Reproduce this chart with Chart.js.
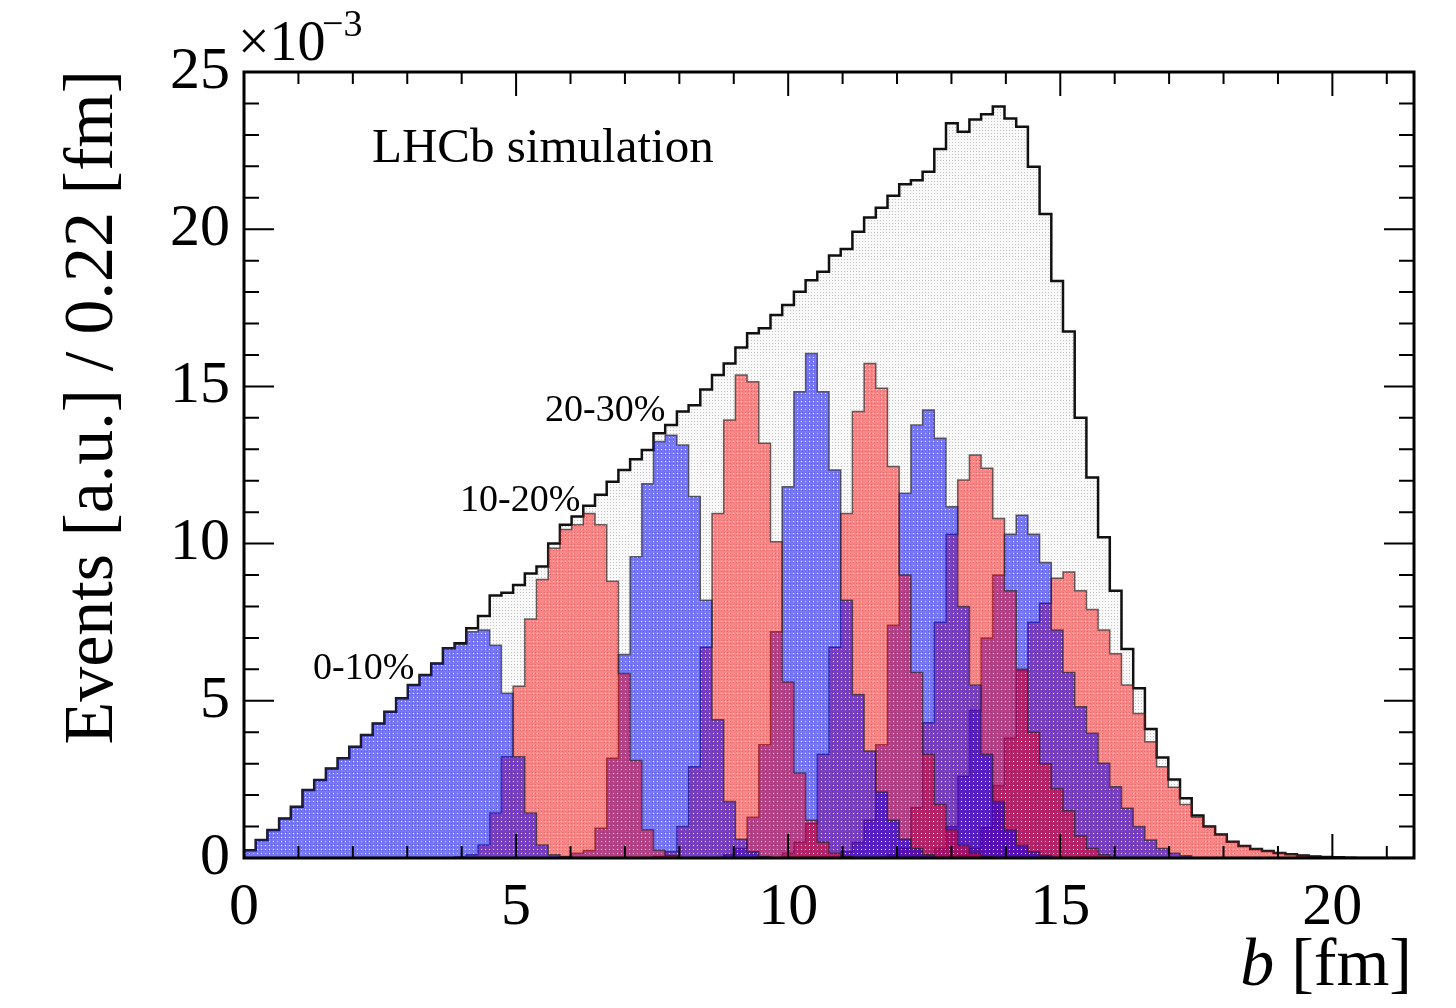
<!DOCTYPE html>
<html>
<head>
<meta charset="utf-8">
<script src="https://cdn.jsdelivr.net/npm/chart.js@4.4.1/dist/chart.umd.min.js"></script>
<style>
  html, body { margin: 0; padding: 0; background: #fff; }
  #wrap { width: 1456px; height: 1008px; }
</style>
</head>
<body>
<div id="wrap"><canvas id="c" width="1456" height="1008"></canvas></div>
<script>
// b distributions per centrality class, LHCb simulation (values in units of 1e-3)
const binWidth = 0.215;
const xMax = 21.5;
const yMax = 25;
const xTickStep = 5;
const yTickStep = 5;

// all events, 100 bins from b = 0
const total = [
  0.25, 0.57, 0.89, 1.26, 1.63, 2.16, 2.48, 2.85, 3.17, 3.54,
  3.91, 4.28, 4.65, 5.08, 5.5, 5.82, 6.19, 6.67, 6.83, 7.31,
  7.7, 8.35, 8.44, 8.68, 9.05, 9.27, 10.0, 10.6, 10.86, 11.2,
  11.55, 11.97, 12.34, 12.68, 12.98, 13.51, 13.77, 14.2, 14.4, 14.9,
  15.36, 15.73, 16.24, 16.69, 16.85, 17.27, 17.59, 18.01, 18.38, 18.65,
  19.16, 19.37, 19.92, 20.37, 20.68, 21.06, 21.43, 21.56, 21.83, 22.55,
  23.37, 23.1, 23.49, 23.66, 23.9, 23.52, 23.26, 21.99, 20.48, 18.35,
  16.75, 14.0, 12.1, 10.2, 8.5, 6.65, 5.4, 4.1, 3.2, 2.5,
  1.9, 1.35, 1.0, 0.75, 0.52, 0.38, 0.29, 0.22, 0.16, 0.12,
  0.08, 0.05, 0.03, 0.02, 0.01, 0, 0, 0, 0, 0
];

// centrality classes: first bin index, then bin contents
const classNames = ['0-10%', '10-20%', '20-30%', '30-40%', '40-50%',
                    '50-60%', '60-70%', '70-80%', '80-90%', '90-100%'];
const classStart = [0, 18, 27, 35, 41, 46, 51, 55, 59, 61];

const cent0to10 = [0.25, 0.57, 0.89, 1.26, 1.63, 2.16, 2.48, 2.85, 3.17, 3.54,
  3.91, 4.28, 4.65, 5.08, 5.5, 5.82, 6.19, 6.67, 6.8, 7.2,
  7.25, 6.77, 5.24, 3.22, 1.43, 0.41, 0.1, 0.03];
const cent10to20 = [0.03, 0.1, 0.41, 1.43, 3.22, 5.46, 7.6, 8.86, 9.85, 10.45,
  10.6, 10.96, 10.6, 8.8, 5.87, 3.1, 0.9, 0.25, 0.08];
const cent20to30 = [0.05, 0.15, 0.24, 0.95, 3.17, 6.47, 9.58, 11.9, 13.25, 13.45,
  13.14, 11.5, 8.2, 4.4, 1.8, 0.6, 0.2, 0.05];
const cent30to40 = [0.05, 0.2, 1.0, 2.9, 6.7, 10.96, 13.93, 15.36, 15.15, 13.19,
  10.06, 5.6, 2.7, 1.2, 0.5, 0.15, 0.05];
const cent40to50 = [0.1, 0.3, 1.3, 3.6, 7.2, 11.81, 14.83, 16.05, 14.83, 12.34,
  8.2, 5.2, 3.4, 2.1, 1.2, 0.6, 0.3, 0.1];
const cent50to60 = [0.15, 0.5, 1.1, 3.3, 6.7, 10.96, 14.2, 15.73, 14.94, 12.45,
  9.0, 5.9, 3.3, 1.7, 0.9, 0.4, 0.15, 0.05];
const cent60to70 = [0.2, 0.5, 1.2, 3.6, 7.4, 11.6, 13.77, 14.25, 13.35, 11.17,
  8.0, 5.5, 3.3, 1.8, 0.9, 0.4, 0.2, 0.08];
const cent70to80 = [0.1, 0.3, 1.6, 4.3, 7.5, 10.3, 12.02, 12.82, 12.4, 10.8,
  8.5, 6.0, 4.0, 3.0, 2.2, 1.5, 0.7, 0.3, 0.1];
const cent80to90 = [0.3, 1.0, 2.6, 4.7, 7.0, 9.0, 10.3, 10.9, 10.3, 9.4,
  7.25, 5.9, 4.81, 3.97, 3.01, 2.27, 1.58, 1.0, 0.57, 0.3, 0.15, 0.07];
const cent90to100 = [0.08, 0.3, 0.96, 2.3, 3.82, 5.96, 7.5, 8.1, 8.9, 9.1,
  8.5, 7.9, 7.25, 6.5, 5.5, 4.6, 3.7, 2.9, 2.25, 1.7,
  1.3, 1.0, 0.75, 0.52, 0.38, 0.29, 0.22, 0.16, 0.12, 0.08,
  0.05, 0.03, 0.02, 0.01];

const classValues = [cent0to10, cent10to20, cent20to30, cent30to40, cent40to50,
  cent50to60, cent60to70, cent70to80, cent80to90, cent90to100];

// ROOT-like dotted fill, one light dot per 4x4 tile
function dotPattern(color) {
  const c = document.createElement('canvas');
  c.width = 4; c.height = 4;
  const g = c.getContext('2d');
  g.fillStyle = color;
  g.fillRect(0, 0, 4, 4);
  g.clearRect(1, 1, 1, 1);
  return g.createPattern(c, 'repeat');
}

function grayPattern() {
  const c = document.createElement('canvas');
  c.width = 3; c.height = 3;
  const g = c.getContext('2d');
  g.fillStyle = 'rgba(0,0,0,0.025)';
  g.fillRect(0, 0, 3, 3);
  g.fillStyle = 'rgba(0,0,0,0.22)';
  g.fillRect(1, 1, 1, 1);
  return g.createPattern(c, 'repeat');
}

// step outline: closed at zero on both ends
function histPoints(values, start) {
  const pts = [{ x: start * binWidth, y: 0 }];
  values.forEach((v, i) => pts.push({ x: (start + i) * binWidth, y: v }));
  pts.push({ x: (start + values.length) * binWidth, y: 0 });
  return pts;
}

const bluePat = dotPattern('rgba(0,0,255,0.52)');
const redPat = dotPattern('rgba(255,0,0,0.47)');

const datasets = classValues.map((vals, i) => ({
  label: classNames[i],
  data: histPoints(vals, classStart[i]),
  stepped: true,
  fill: 'origin',
  backgroundColor: i % 2 === 0 ? bluePat : redPat,
  borderColor: 'rgba(40,40,40,0.7)',
  borderWidth: 1.5,
  pointRadius: 0,
  order: i
}));

datasets.push({
  label: 'all',
  data: histPoints(total, 0),
  stepped: true,
  fill: 'origin',
  backgroundColor: grayPattern(),
  borderColor: '#111',
  borderWidth: 2.5,
  pointRadius: 0,
  order: 20
});

const serif = '"Liberation Serif", "DejaVu Serif", serif';

const rootFrame = {
  id: 'rootFrame',
  afterDraw(chart) {
    const { ctx, chartArea: a, scales: { x, y } } = chart;
    ctx.save();
    ctx.strokeStyle = '#000';
    ctx.lineWidth = 2;
    ctx.beginPath();
    for (let b = 0; b <= xMax; b += 1) {
      const px = x.getPixelForValue(b);
      const len = b % xTickStep === 0 ? 24 : 12;
      ctx.moveTo(px, a.bottom); ctx.lineTo(px, a.bottom - len);
      ctx.moveTo(px, a.top); ctx.lineTo(px, a.top + len);
    }
    for (let v = 0; v <= yMax; v += 1) {
      const py = y.getPixelForValue(v);
      const len = v % yTickStep === 0 ? 30 : 15;
      ctx.moveTo(a.left, py); ctx.lineTo(a.left + len, py);
      ctx.moveTo(a.right, py); ctx.lineTo(a.right - len, py);
    }
    ctx.stroke();
    ctx.lineWidth = 3;
    ctx.strokeRect(a.left, a.top, a.right - a.left, a.bottom - a.top);

    ctx.fillStyle = '#000';
    ctx.textBaseline = 'alphabetic';
    ctx.textAlign = 'left';
    ctx.font = '49px ' + serif;
    ctx.fillText('LHCb simulation', 372, 162);

    ctx.font = '38px ' + serif;
    ctx.fillText(classNames[0], 313, 679);
    ctx.fillText(classNames[1], 460, 511);
    ctx.fillText(classNames[2], 545, 421);

    // exponent of the y axis
    ctx.font = '56px ' + serif;
    ctx.fillText('\u00d710', 238, 60);
    ctx.font = '38px ' + serif;
    ctx.fillText('\u22123', 322, 36);

    // x title with italic b
    ctx.textAlign = 'right';
    ctx.font = '68px ' + serif;
    ctx.fillText(' [fm]', 1412, 985);
    const w = ctx.measureText(' [fm]').width;
    ctx.font = 'italic 68px ' + serif;
    ctx.fillText('b', 1412 - w, 985);

    // y title
    ctx.translate(112, 70);
    ctx.rotate(-Math.PI / 2);
    ctx.font = '70px ' + serif;
    ctx.textAlign = 'right';
    ctx.fillText('Events [a.u.] / 0.22 [fm]', 0, 0);
    ctx.restore();
  }
};

new Chart(document.getElementById('c'), {
  type: 'line',
  data: { datasets },
  options: {
    responsive: false,
    animation: false,
    layout: { padding: { top: 72, right: 42, left: 0, bottom: 0 } },
    plugins: {
      legend: { display: false },
      tooltip: { enabled: false },
      filler: { drawTime: 'beforeDatasetDraw' }
    },
    scales: {
      x: {
        type: 'linear',
        min: 0,
        max: xMax,
        grid: { display: false, drawTicks: false },
        border: { display: false },
        ticks: {
          stepSize: xTickStep,
          includeBounds: false,
          autoSkip: false,
          maxRotation: 0,
          padding: 14,
          color: '#000',
          font: { family: serif, size: 60 }
        },
        afterFit: (s) => { s.height = 150; }
      },
      y: {
        min: 0,
        max: yMax,
        grid: { display: false, drawTicks: false },
        border: { display: false },
        ticks: {
          stepSize: yTickStep,
          padding: 14,
          color: '#000',
          font: { family: serif, size: 60 }
        },
        afterFit: (s) => { s.width = 244; }
      }
    }
  },
  plugins: [rootFrame]
});
</script>
</body>
</html>
